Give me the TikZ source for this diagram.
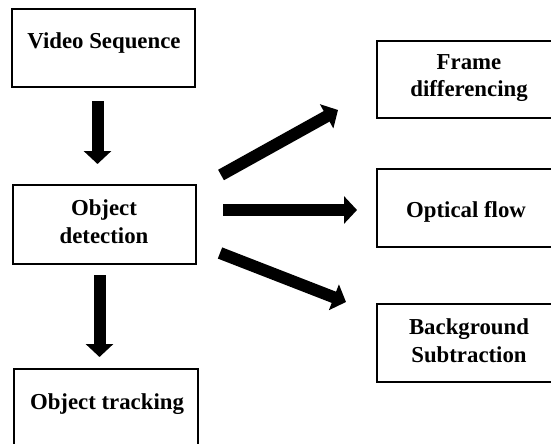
\documentclass[tikz,border=0pt]{standalone}
\usepackage{fontspec}
\setmainfont{Liberation Serif}
\usetikzlibrary{arrows.meta}
\begin{document}
\begin{tikzpicture}[x=1pt,y=-1pt,
  box/.style={draw=black,line width=1.5pt,rectangle,inner sep=0pt,
    minimum width=#1},
  box/.default=183pt,
  caption/.style={font=\fontsize{22.8}{27.5}\selectfont\bfseries,
    align=center,inner sep=0pt,text=black},
  fatarrow/.style={line width=12pt,line cap=butt,
    -{Triangle[width=27pt,length=13pt]}}]
\useasboundingbox (0,0) rectangle (551,444);
\clip (0,0) rectangle (551,444);

% left column
\node[box,minimum height=78pt] (vs) at (103.5,48) {};
\node[caption] (vst) at (104,43.5) {Video Sequence};
\node[box,minimum height=79pt] (od) at (104.5,224.5) {};
\node[caption] (odt) at (104,221.5) {Object\\detection};
\node[box=184pt,minimum height=91pt] (ot) at (106,414.5) {};
\node[caption] (ott) at (107,404.5) {Object tracking};

% right column (boxes run past the right edge)
\node[box=179pt,minimum height=77pt] (fd) at (466.5,79.5) {};
\node[caption] (fdt) at (469,78) {Frame\\differencing};
\node[box=179pt,minimum height=78pt] (of) at (466.5,208) {};
\node[caption] (oft) at (466,211.5) {Optical flow};
\node[box=179pt,minimum height=78pt] (bs) at (466.5,343) {};
\node[caption] (bst) at (469,340.5) {Background\\Subtraction};

% arrow end points
\coordinate (a1s) at (97.5,101);  \coordinate (a1e) at (97.5,164);
\coordinate (a2s) at (99.5,275);  \coordinate (a2e) at (99.5,357);
\coordinate (b1s) at (221,175);   \coordinate (b1e) at (338,110);
\coordinate (b2s) at (223,210);   \coordinate (b2e) at (357,210);
\coordinate (b3s) at (220,253);   \coordinate (b3e) at (346,302);

\draw[fatarrow] (a1s) -- (a1e);
\draw[fatarrow] (a2s) -- (a2e);
\draw[fatarrow] (b1s) -- (b1e);
\draw[fatarrow] (b2s) -- (b2e);
\draw[fatarrow] (b3s) -- (b3e);
\end{tikzpicture}
\end{document}
